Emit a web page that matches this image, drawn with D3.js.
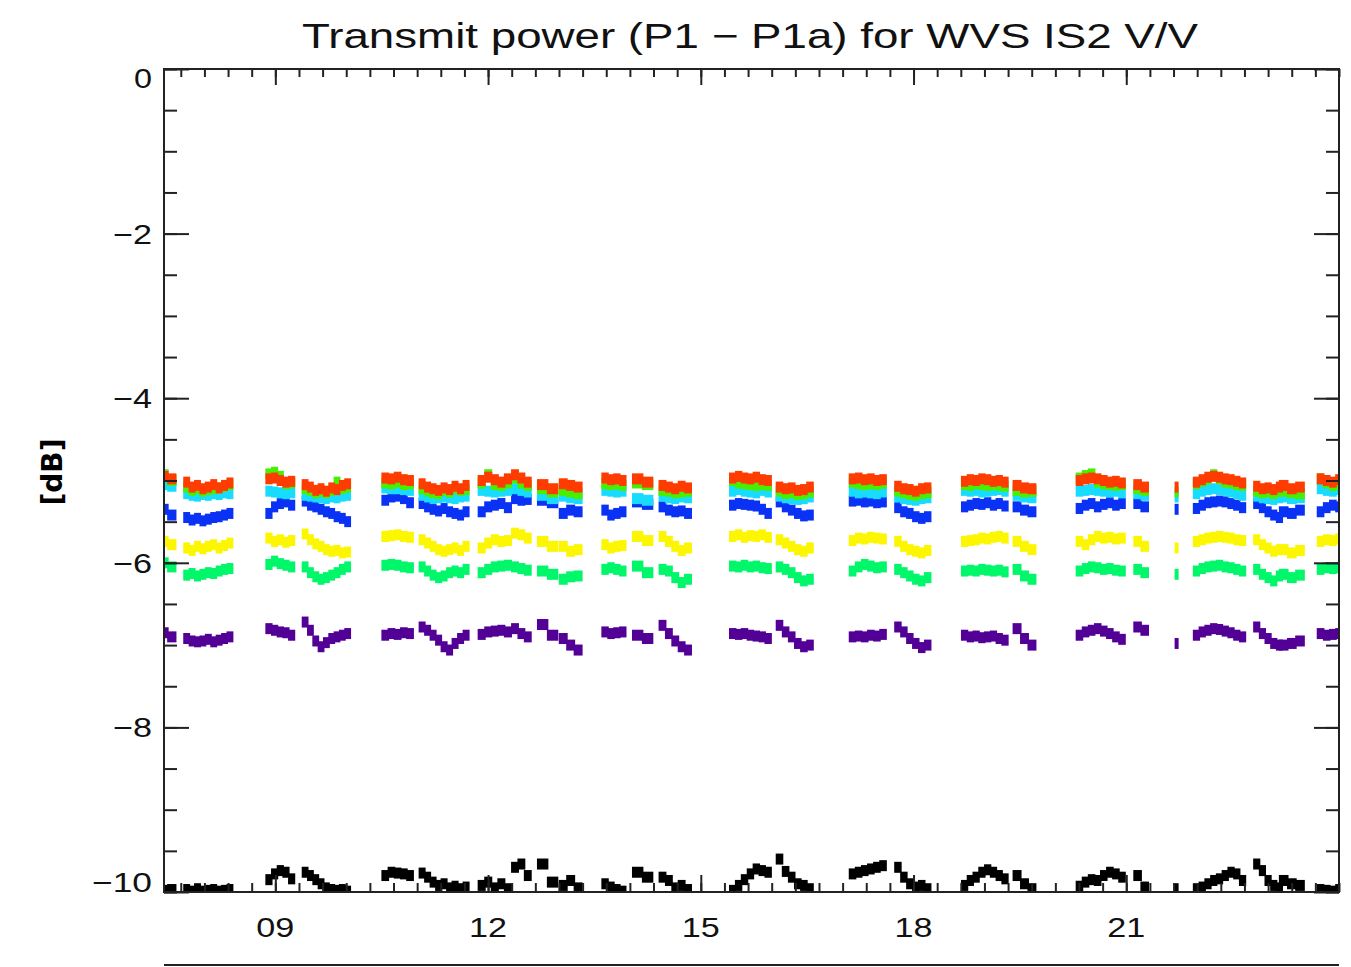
<!DOCTYPE html>
<html>
<head>
<meta charset="utf-8">
<script src="https://cdn.jsdelivr.net/npm/d3@7"></script>
<style>
  body { margin: 0; background: #fff; }
  svg { display: block; }
</style>
</head>
<body>
<svg id="chart" width="1351" height="967"></svg>
<script>
// Orbit segments (hours of day) during which the instrument was measuring
const segStart = [7.43, 7.75, 8.91, 9.42, 10.55, 11.07, 11.91, 12.38, 12.77, 13.06, 13.65, 14.11, 14.46,
                  15.45, 16.11, 17.14, 17.78, 18.72, 19.46, 20.34, 21.16, 21.68, 21.99, 22.84, 23.22, 23.74];
const segEnd   = [7.54, 8.36, 9.23, 10.02, 10.90, 11.69, 12.28, 12.56, 12.91, 13.27, 13.90, 14.25, 14.82,
                  15.95, 16.54, 17.57, 18.20, 19.29, 19.67, 20.94, 21.26, 21.74, 22.64, 23.16, 23.45, 24.0];

// Transmit power P1 - P1a [dB] per beam, one inner list per segment
const beamRed = [
  [-4.95, -4.98], [-5.02, -5.08, -5.06, -5.10, -5.08, -5.05, -5.09, -5.06, -5.03], [-4.98, -4.97, -5.00, -5.02, -5.01],
  [-5.05, -5.08, -5.12, -5.10, -5.13, -5.09, -5.11, -5.06, -5.04], [-4.97, -4.98, -4.96, -4.99, -5.00],
  [-5.04, -5.08, -5.10, -5.12, -5.09, -5.11, -5.07, -5.10, -5.06], [-5.00, -4.96, -4.99, -5.02, -4.98],
  [-4.93, -4.97, -5.02], [-5.05, -5.10], [-5.04, -5.06, -5.08], [-4.97, -4.99, -4.98, -5.00], [-4.98, -5.02],
  [-5.06, -5.08, -5.10, -5.07, -5.09], [-4.97, -4.95, -4.97, -4.98, -4.96, -4.99, -5.00],
  [-5.08, -5.10, -5.09, -5.12, -5.11, -5.08], [-4.98, -4.97, -4.99, -4.98, -5.00, -4.99],
  [-5.07, -5.10, -5.11, -5.13, -5.10, -5.09], [-5.01, -4.99, -5.00, -4.98, -4.99, -5.01, -5.00, -5.02],
  [-5.06, -5.09, -5.10], [-5.00, -4.98, -4.97, -4.98, -5.00, -5.02, -5.01, -5.03], [-5.05, -5.08], [-5.08],
  [-5.02, -4.99, -4.96, -4.95, -4.96, -4.98, -4.99, -5.01, -5.03], [-5.07, -5.10, -5.09, -5.11, -5.08],
  [-5.06, -5.10, -5.08], [-4.98, -5.00, -5.02, -4.99]
];
const beamGreen = [
  [-4.93, -5.00], [-5.08, -5.12, -5.10, -5.13, -5.11, -5.10, -5.09, -5.07, -5.05], [-4.92, -4.90, -4.95, -5.04, -5.03],
  [-5.10, -5.12, -5.15, -5.13, -5.15, -5.12, -5.02, -5.10, -5.08], [-5.03, -5.04, -5.02, -5.05, -5.04],
  [-5.10, -5.13, -5.15, -5.16, -5.12, -5.14, -5.10, -5.12, -5.11], [-5.03, -4.93, -5.05, -5.06, -5.03],
  [-4.97, -5.03, -5.06], [-5.10, -5.14], [-5.12, -5.14, -5.16], [-5.04, -5.05, -5.04, -5.06], [-5.03, -5.05],
  [-5.12, -5.13, -5.15, -5.14, -5.13], [-5.00, -5.03, -5.04, -5.05, -5.06, -5.05, -5.06],
  [-5.13, -5.16, -5.15, -5.17, -5.16, -5.14], [-5.02, -5.04, -5.05, -5.04, -5.05, -5.03],
  [-5.13, -5.15, -5.17, -5.18, -5.16, -5.15], [-5.05, -5.06, -5.04, -5.05, -5.06, -5.05, -5.06, -5.07],
  [-5.12, -5.14, -5.13], [-4.97, -4.94, -4.92, -5.02, -5.04, -5.05, -5.06, -5.05], [-5.10, -5.12], [-5.14],
  [-5.04, -5.01, -4.98, -4.93, -4.98, -5.02, -5.03, -5.05, -5.06], [-5.13, -5.15, -5.14, -5.16, -5.13],
  [-5.13, -5.15, -5.16], [-4.98, -5.03, -5.06, -5.05]
];
const beamCyan = [
  [-5.05, -5.07], [-5.16, -5.18, -5.19, -5.17, -5.18, -5.16, -5.17, -5.15, -5.16], [-5.13, -5.14, -5.15, -5.16, -5.15],
  [-5.18, -5.19, -5.20, -5.21, -5.22, -5.20, -5.21, -5.19, -5.18], [-5.09, -5.10, -5.10, -5.11, -5.12],
  [-5.18, -5.20, -5.22, -5.21, -5.20, -5.21, -5.22, -5.20, -5.19], [-5.12, -5.13, -5.14, -5.13, -5.12],
  [-5.10, -5.12, -5.14], [-5.18, -5.22], [-5.19, -5.21, -5.22], [-5.12, -5.13, -5.14, -5.13], [-5.22, -5.24],
  [-5.19, -5.21, -5.22, -5.20, -5.21], [-5.13, -5.11, -5.13, -5.14, -5.15, -5.12, -5.14],
  [-5.19, -5.21, -5.22, -5.23, -5.22, -5.20], [-5.13, -5.15, -5.14, -5.15, -5.16, -5.14],
  [-5.20, -5.22, -5.23, -5.24, -5.22, -5.21], [-5.12, -5.13, -5.12, -5.14, -5.13, -5.12, -5.11, -5.13],
  [-5.18, -5.20, -5.21], [-5.13, -5.12, -5.11, -5.12, -5.13, -5.14, -5.13, -5.15], [-5.16, -5.18], [-5.20],
  [-5.16, -5.13, -5.11, -5.10, -5.11, -5.12, -5.14, -5.16, -5.18], [-5.19, -5.21, -5.22, -5.23, -5.21],
  [-5.20, -5.22, -5.21], [-5.10, -5.12, -5.13, -5.11]
];
const beamBlue = [
  [-5.35, -5.42], [-5.45, -5.48, -5.46, -5.49, -5.47, -5.45, -5.44, -5.42, -5.40], [-5.40, -5.32, -5.28, -5.26, -5.30],
  [-5.25, -5.30, -5.32, -5.35, -5.38, -5.40, -5.44, -5.46, -5.50], [-5.24, -5.20, -5.19, -5.22, -5.27],
  [-5.28, -5.32, -5.35, -5.37, -5.34, -5.38, -5.40, -5.42, -5.38], [-5.38, -5.32, -5.30, -5.28, -5.33],
  [-5.22, -5.24, -5.23], [-5.24, -5.27], [-5.40, -5.36, -5.38], [-5.36, -5.42, -5.40, -5.38], [-5.26, -5.29],
  [-5.32, -5.36, -5.38, -5.37, -5.40], [-5.30, -5.28, -5.29, -5.30, -5.31, -5.35, -5.40],
  [-5.26, -5.32, -5.36, -5.40, -5.43, -5.42], [-5.25, -5.24, -5.26, -5.25, -5.27, -5.26],
  [-5.33, -5.38, -5.40, -5.44, -5.46, -5.44], [-5.32, -5.30, -5.28, -5.29, -5.27, -5.30, -5.28, -5.31],
  [-5.32, -5.36, -5.38], [-5.34, -5.30, -5.28, -5.32, -5.29, -5.27, -5.30, -5.28], [-5.28, -5.32], [-5.35],
  [-5.34, -5.30, -5.27, -5.26, -5.25, -5.26, -5.28, -5.30, -5.33], [-5.28, -5.33, -5.38, -5.42, -5.45],
  [-5.38, -5.40, -5.36], [-5.38, -5.33, -5.30, -5.32]
];
const beamYellow = [
  [-5.74, -5.78], [-5.82, -5.85, -5.80, -5.83, -5.80, -5.78, -5.82, -5.79, -5.76], [-5.70, -5.74, -5.72, -5.75, -5.73],
  [-5.65, -5.72, -5.77, -5.80, -5.84, -5.86, -5.85, -5.88, -5.87], [-5.68, -5.67, -5.66, -5.68, -5.69],
  [-5.72, -5.76, -5.80, -5.84, -5.86, -5.84, -5.82, -5.85, -5.80], [-5.82, -5.76, -5.72, -5.74, -5.73],
  [-5.64, -5.66, -5.70], [-5.74, -5.80], [-5.80, -5.86, -5.84], [-5.78, -5.82, -5.80, -5.79], [-5.68, -5.73],
  [-5.68, -5.74, -5.80, -5.85, -5.82], [-5.68, -5.66, -5.69, -5.67, -5.68, -5.66, -5.69],
  [-5.72, -5.76, -5.80, -5.84, -5.86, -5.82], [-5.73, -5.70, -5.71, -5.69, -5.70, -5.71],
  [-5.74, -5.80, -5.84, -5.86, -5.88, -5.85], [-5.74, -5.73, -5.72, -5.70, -5.71, -5.69, -5.68, -5.70],
  [-5.74, -5.80, -5.84], [-5.74, -5.78, -5.72, -5.68, -5.70, -5.69, -5.71, -5.70], [-5.74, -5.80], [-5.82],
  [-5.74, -5.72, -5.70, -5.69, -5.68, -5.69, -5.70, -5.72, -5.73], [-5.72, -5.78, -5.82, -5.86, -5.84],
  [-5.84, -5.88, -5.85], [-5.74, -5.72, -5.73, -5.71]
];
const beamSpring = [
  [-6.00, -6.05], [-6.15, -6.13, -6.16, -6.14, -6.12, -6.13, -6.10, -6.08, -6.07], [-6.02, -5.98, -6.01, -6.03, -6.05],
  [-6.05, -6.12, -6.17, -6.20, -6.18, -6.15, -6.12, -6.08, -6.05], [-6.03, -6.02, -6.03, -6.05, -6.06],
  [-6.05, -6.10, -6.15, -6.18, -6.16, -6.12, -6.10, -6.12, -6.08], [-6.12, -6.08, -6.05, -6.04, -6.03],
  [-6.05, -6.07, -6.09], [-6.10, -6.14], [-6.20, -6.17, -6.16], [-6.08, -6.06, -6.08, -6.10], [-6.04, -6.12],
  [-6.08, -6.10, -6.18, -6.24, -6.20], [-6.04, -6.05, -6.03, -6.05, -6.04, -6.06, -6.07],
  [-6.05, -6.08, -6.12, -6.18, -6.22, -6.20], [-6.10, -6.05, -6.02, -6.04, -6.06, -6.05],
  [-6.08, -6.12, -6.16, -6.20, -6.22, -6.18], [-6.10, -6.09, -6.10, -6.08, -6.09, -6.10, -6.09, -6.11],
  [-6.08, -6.16, -6.20], [-6.10, -6.07, -6.05, -6.06, -6.08, -6.07, -6.09, -6.10], [-6.08, -6.12], [-6.14],
  [-6.10, -6.07, -6.05, -6.04, -6.03, -6.05, -6.06, -6.08, -6.10], [-6.08, -6.14, -6.18, -6.22, -6.16],
  [-6.14, -6.18, -6.15], [-6.08, -6.06, -6.07, -6.06]
];
const beamPurple = [
  [-6.85, -6.90], [-6.92, -6.95, -6.96, -6.95, -6.93, -6.96, -6.94, -6.92, -6.90], [-6.80, -6.82, -6.84, -6.85, -6.88],
  [-6.72, -6.82, -6.95, -7.02, -6.97, -6.92, -6.90, -6.88, -6.86], [-6.88, -6.86, -6.87, -6.85, -6.86],
  [-6.78, -6.82, -6.88, -6.94, -7.02, -7.06, -6.98, -6.92, -6.88], [-6.87, -6.84, -6.83, -6.82, -6.84],
  [-6.80, -6.86, -6.90], [-6.75, -6.88], [-6.92, -7.00, -7.06], [-6.84, -6.86, -6.85, -6.84], [-6.88, -6.92],
  [-6.76, -6.86, -6.95, -7.02, -7.06], [-6.86, -6.87, -6.86, -6.88, -6.89, -6.90, -6.92],
  [-6.76, -6.84, -6.90, -6.98, -7.02, -7.00], [-6.90, -6.89, -6.90, -6.88, -6.89, -6.87],
  [-6.78, -6.84, -6.92, -6.98, -7.03, -7.00], [-6.88, -6.90, -6.89, -6.91, -6.90, -6.89, -6.92, -6.94],
  [-6.80, -6.92, -7.00], [-6.88, -6.84, -6.82, -6.80, -6.83, -6.86, -6.90, -6.93], [-6.78, -6.82], [-6.98],
  [-6.88, -6.84, -6.82, -6.80, -6.81, -6.83, -6.85, -6.88, -6.90], [-6.78, -6.86, -6.92, -6.98, -7.00],
  [-7.00, -6.98, -6.95], [-6.86, -6.88, -6.87, -6.86]
];
const beamBlack = [
  [-9.98, -9.97], [-9.97, -9.99, -9.96, -9.99, -9.98, -9.97, -9.99, -9.98, -9.97], [-9.85, -9.78, -9.74, -9.76, -9.84],
  [-9.76, -9.80, -9.85, -9.90, -9.95, -9.97, -9.98, -9.97, -9.99], [-9.80, -9.76, -9.77, -9.78, -9.80],
  [-9.77, -9.82, -9.88, -9.92, -9.90, -9.95, -9.93, -9.96, -9.94], [-9.92, -9.88, -9.95, -9.90, -9.96],
  [-9.70, -9.66, -9.80], [-9.66, -9.88], [-9.92, -9.86, -9.95], [-9.90, -9.94, -9.97, -9.99], [-9.76, -9.82],
  [-9.82, -9.86, -9.95, -9.92, -9.97], [-9.98, -9.92, -9.85, -9.78, -9.72, -9.74, -9.76],
  [-9.60, -9.75, -9.82, -9.90, -9.92, -9.96], [-9.78, -9.76, -9.74, -9.72, -9.70, -9.68],
  [-9.70, -9.82, -9.90, -9.94, -9.92, -9.96], [-9.92, -9.86, -9.82, -9.76, -9.73, -9.76, -9.80, -9.84],
  [-9.80, -9.90, -9.96], [-9.93, -9.88, -9.85, -9.86, -9.80, -9.76, -9.78, -9.82], [-9.80, -9.94], [-9.96],
  [-9.96, -9.94, -9.90, -9.86, -9.84, -9.80, -9.76, -9.78, -9.86], [-9.66, -9.74, -9.86, -9.92, -9.95],
  [-9.86, -9.90, -9.92], [-9.97, -9.98, -9.99, -9.97]
];

const yTickValues = [0, -2, -4, -6, -8, -10];
const xTickValues = [9, 12, 15, 18, 21];
const titleText = "Transmit power (P1 \u2212 P1a) for WVS IS2 V/V";
const yAxisTitle = "[dB]";

// Drawn back to front so the upper beams sit on top
const series = [
  { values: beamBlack,  color: "#000000" },
  { values: beamPurple, color: "#520096" },
  { values: beamSpring, color: "#00f76a" },
  { values: beamYellow, color: "#fcf700" },
  { values: beamBlue,   color: "#0a32f5" },
  { values: beamCyan,   color: "#18dcff" },
  { values: beamGreen,  color: "#46f000" },
  { values: beamRed,    color: "#ff3c00" }
];

const svg = d3.select("#chart");
const plotL = 164, plotR = 1339, plotT = 69, plotB = 892;
const x = d3.scaleLinear().domain([7.43, 24.0]).range([plotL, plotR]);
const y = d3.scaleLinear().domain([0, -10]).range([plotT, plotB]);

svg.append("defs").append("clipPath").attr("id", "plotClip")
  .append("rect").attr("x", plotL).attr("y", plotT).attr("width", plotR - plotL).attr("height", plotB - plotT);

// Measurement points; each one fills its share of the segment so that
// consecutive samples merge into a band
const pts = [];
series.forEach(s => {
  s.values.forEach((seg, si) => {
    const n = seg.length;
    const span = x(segEnd[si]) - x(segStart[si]);
    const w = n === 1 ? 4 : span / (n - 1) + 1.5;
    seg.forEach((v, i) => {
      const t = n === 1 ? (segStart[si] + segEnd[si]) / 2
                        : segStart[si] + i * (segEnd[si] - segStart[si]) / (n - 1);
      pts.push({ t, v, w, color: s.color });
    });
  });
});
svg.append("g").attr("clip-path", "url(#plotClip)")
  .selectAll("rect").data(pts).join("rect")
  .attr("x", d => x(d.t) - d.w / 2)
  .attr("y", d => y(d.v) - 5.5)
  .attr("width", d => d.w)
  .attr("height", 11)
  .attr("fill", d => d.color);

// Axes with inward ticks
const axisColor = "#222";
function styleAxis(g) {
  g.select(".domain").remove();
  g.selectAll("line").attr("stroke", axisColor).attr("stroke-width", 2);
  g.selectAll("text").remove();
}
const xMinor = d3.range(23, 73).map(i => i / 3).filter(v => v >= 7.43 && v <= 24);
const yMinor = d3.range(0, 21).map(i => -i / 2);

svg.append("g").attr("transform", `translate(0,${plotB})`)
  .call(d3.axisBottom(x).tickValues(xMinor).tickSize(-9)).call(styleAxis);
svg.append("g").attr("transform", `translate(0,${plotB})`)
  .call(d3.axisBottom(x).tickValues(xTickValues).tickSize(-17)).call(styleAxis);
svg.append("g").attr("transform", `translate(0,${plotT})`)
  .call(d3.axisTop(x).tickValues(xMinor).tickSize(-8)).call(styleAxis);
svg.append("g").attr("transform", `translate(0,${plotT})`)
  .call(d3.axisTop(x).tickValues(xTickValues).tickSize(-16)).call(styleAxis);
svg.append("g").attr("transform", `translate(${plotL},0)`)
  .call(d3.axisLeft(y).tickValues(yMinor).tickSize(-13)).call(styleAxis);
svg.append("g").attr("transform", `translate(${plotL},0)`)
  .call(d3.axisLeft(y).tickValues(yTickValues).tickSize(-25)).call(styleAxis);
svg.append("g").attr("transform", `translate(${plotR},0)`)
  .call(d3.axisRight(y).tickValues(yMinor).tickSize(-13)).call(styleAxis);
svg.append("g").attr("transform", `translate(${plotR},0)`)
  .call(d3.axisRight(y).tickValues(yTickValues).tickSize(-25)).call(styleAxis);

// Frame
svg.append("rect").attr("x", plotL).attr("y", plotT).attr("width", plotR - plotL).attr("height", plotB - plotT)
  .attr("fill", "none").attr("stroke", axisColor).attr("stroke-width", 2);

// Tick labels
const labelFont = "'Liberation Sans', Arial, sans-serif";
const fmtY = d => (d < 0 ? "\u2212" : "") + Math.abs(d);
svg.append("g").selectAll("text").data(yTickValues).join("text")
  .attr("x", 152)
  .attr("y", d => y(d) + (d === 0 ? 19 : d === -10 ? 0 : 10))
  .attr("text-anchor", "end")
  .attr("font-family", labelFont).attr("font-size", 28).attr("fill", "#111")
  .attr("textLength", d => fmtY(d).length * 21 - 3)
  .attr("lengthAdjust", "spacingAndGlyphs")
  .text(fmtY);

const fmtX = d3.format("02d");
svg.append("g").selectAll("text").data(xTickValues).join("text")
  .attr("x", d => x(d))
  .attr("y", 937)
  .attr("text-anchor", "middle")
  .attr("font-family", labelFont).attr("font-size", 28).attr("fill", "#111")
  .attr("textLength", 38).attr("lengthAdjust", "spacingAndGlyphs")
  .text(fmtX);

// Title
svg.append("text")
  .attr("x", 750).attr("y", 48)
  .attr("text-anchor", "middle")
  .attr("font-family", labelFont).attr("font-size", 35).attr("fill", "#111")
  .attr("textLength", 896).attr("lengthAdjust", "spacingAndGlyphs")
  .text(titleText);

// Y axis title
svg.append("text")
  .attr("transform", "translate(62,472) rotate(-90)")
  .attr("text-anchor", "middle")
  .attr("font-family", "'DejaVu Sans', sans-serif").attr("font-weight", "bold")
  .attr("font-size", 28).attr("fill", "#000")
  .text(yAxisTitle);

// Line of the axis below
svg.append("line").attr("x1", plotL).attr("x2", plotR).attr("y1", 965).attr("y2", 965)
  .attr("stroke", axisColor).attr("stroke-width", 2);
</script>
</body>
</html>
